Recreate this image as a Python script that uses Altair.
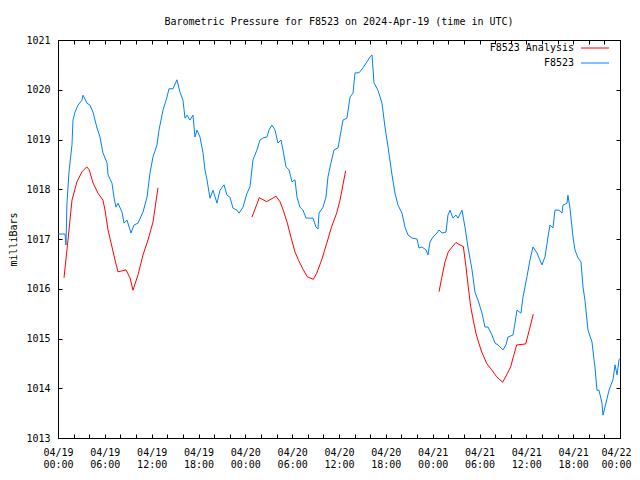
import json
import altair as alt
import pandas as pd

# ---------------- data ----------------
# hours since 2024-04-19 00:00 UTC
blue_hours = [
    0, 0.90, 1.02, 1.15, 1.41, 1.79, 1.92, 2.18, 2.56, 3.07,
    3.20, 3.72, 4.10, 4.48, 5.00, 5.38, 5.76, 6.28, 6.41, 6.92,
    7.17, 7.43, 7.69, 8.20, 8.46, 8.84, 9.35, 9.74, 10.25, 10.89,
    11.40, 11.79, 12.17, 12.68, 12.94, 13.45, 13.96, 14.22, 14.73, 15.24,
    15.63, 16.01, 16.27, 16.53, 16.91, 17.29, 17.55, 17.81, 18.19, 18.58,
    18.83, 19.09, 19.47, 19.86, 20.37, 20.75, 21.27, 21.65, 22.03, 22.42,
    22.93, 23.19, 23.70, 24.21, 24.60, 24.98, 25.49, 25.88, 26.26, 26.77,
    27.03, 27.41, 27.80, 28.18, 28.57, 28.82, 29.21, 29.59, 29.98, 30.36,
    30.62, 31.00, 31.39, 31.77, 32.67, 33.05, 33.31, 33.44, 33.95, 34.33,
    34.59, 34.97, 35.36, 35.87, 36.51, 37.02, 37.41, 37.79, 38.05, 38.56,
    39.07, 39.58, 39.97, 40.23, 40.48, 40.99, 41.51, 41.89, 42.28, 42.79,
    43.17, 43.56, 44.07, 44.45, 44.84, 45.35, 45.99, 46.25, 46.63, 47.14,
    47.40, 47.66, 48.04, 48.55, 48.81, 49.19, 49.71, 49.96, 50.22, 50.60,
    50.99, 51.24, 51.75, 52.14, 52.52, 53.04, 53.42, 53.81, 54.32, 54.70,
    55.09, 55.60, 55.98, 56.37, 57.01, 57.39, 57.65, 58.29, 58.55, 58.80,
    59.31, 59.57, 60.08, 60.47, 60.85, 61.11, 61.36, 62.00, 62.39, 62.77,
    63.03, 63.41, 63.67, 64.18, 64.57, 64.69, 65.21, 65.33, 65.59, 65.98,
    66.23, 66.62, 67.00, 67.26, 67.51, 67.90, 68.41, 68.80, 69.05, 69.31,
    69.69, 69.82, 70.20, 70.59, 71.10, 71.36, 71.62, 71.87, 72.0,
]
blue_values = [
    1017.10, 1017.10, 1016.88, 1017.72, 1018.35, 1018.89, 1019.39, 1019.55, 1019.69, 1019.79,
    1019.89, 1019.73, 1019.69, 1019.55, 1019.23, 1019.05, 1018.73, 1018.53, 1018.29, 1018.12,
    1017.84, 1017.64, 1017.72, 1017.54, 1017.32, 1017.38, 1017.12, 1017.28, 1017.32, 1017.54,
    1017.84, 1018.33, 1018.65, 1018.89, 1019.19, 1019.59, 1019.85, 1020.02, 1020.02, 1020.20,
    1019.95, 1019.79, 1019.43, 1019.49, 1019.39, 1019.49, 1019.05, 1019.19, 1019.05, 1018.73,
    1018.39, 1018.19, 1017.82, 1017.98, 1017.72, 1017.98, 1018.09, 1017.88, 1017.84, 1017.62,
    1017.58, 1017.52, 1017.64, 1017.92, 1018.05, 1018.59, 1018.79, 1018.99, 1019.03, 1019.05,
    1019.19, 1019.29, 1019.19, 1018.93, 1018.99, 1018.79, 1018.45, 1018.39, 1018.15, 1018.19,
    1017.84, 1017.64, 1017.58, 1017.42, 1017.42, 1017.24, 1017.20, 1017.52, 1017.64, 1017.84,
    1018.25, 1018.53, 1018.79, 1018.83, 1019.39, 1019.43, 1019.85, 1019.93, 1020.34, 1020.34,
    1020.44, 1020.56, 1020.66, 1020.70, 1020.14, 1019.99, 1019.73, 1019.25, 1018.85, 1018.29,
    1017.92, 1017.68, 1017.52, 1017.24, 1017.08, 1017.02, 1017.00, 1016.82, 1016.84, 1016.78,
    1016.68, 1016.94, 1017.04, 1017.12, 1017.18, 1017.12, 1017.14, 1017.48, 1017.58, 1017.42,
    1017.48, 1017.42, 1017.58, 1017.24, 1016.84, 1016.38, 1015.93, 1015.77, 1015.51, 1015.23,
    1015.23, 1015.07, 1014.91, 1014.87, 1014.77, 1014.87, 1015.03, 1015.07, 1015.31, 1015.57,
    1015.51, 1015.83, 1016.24, 1016.58, 1016.84, 1016.78, 1016.72, 1016.48, 1016.64, 1017.04,
    1017.28, 1017.22, 1017.58, 1017.58, 1017.52, 1017.68, 1017.72, 1017.88, 1017.62, 1017.04,
    1016.78, 1016.62, 1016.54, 1016.04, 1015.77, 1015.17, 1014.93, 1014.41, 1013.96, 1013.96,
    1013.70, 1013.46, 1013.70, 1013.96, 1014.17, 1014.47, 1014.27, 1014.57, 1014.60,
]

red_hours_1 = [0.77, 1.28, 1.79, 2.43, 3.07, 3.68, 4.00, 4.48, 5.12, 5.76, 6.02, 6.41,
               6.92, 7.30, 7.69, 8.71, 9.22, 9.61, 10.25, 10.89, 11.53, 12.17, 12.81]
red_values_1 = [1016.22, 1016.98, 1017.78, 1018.15, 1018.35, 1018.45, 1018.39, 1018.13,
                1017.92, 1017.78, 1017.58, 1017.18, 1016.84, 1016.58, 1016.34, 1016.38,
                1016.22, 1015.97, 1016.28, 1016.68, 1016.98, 1017.34, 1018.03]
red_hours_2 = [24.85, 25.79, 26.73, 27.93, 28.44, 28.86, 29.38, 29.94, 30.36, 30.79,
               31.43, 31.94, 32.71, 33.14, 33.78, 34.42, 35.06, 35.70, 36.13, 36.85]
red_values_2 = [1017.44, 1017.83, 1017.75, 1017.86, 1017.75, 1017.58, 1017.32, 1016.98,
                1016.74, 1016.58, 1016.38, 1016.24, 1016.19, 1016.31, 1016.58, 1016.91,
                1017.25, 1017.52, 1017.78, 1018.37]
red_hours_3 = [48.81, 49.15, 49.58, 50.00, 50.43, 50.99, 51.50, 51.93, 52.27, 52.56,
               52.87, 53.20, 53.55, 53.85, 54.28, 54.92, 55.56, 56.20, 56.97, 57.48,
               57.99, 58.33, 58.76, 59.91, 60.38, 60.89]
red_values_3 = [1015.94, 1016.21, 1016.54, 1016.74, 1016.83, 1016.93, 1016.88, 1016.85,
                1016.44, 1016.04, 1015.64, 1015.37, 1015.10, 1014.94, 1014.73, 1014.50,
                1014.37, 1014.23, 1014.12, 1014.27, 1014.43, 1014.63, 1014.87, 1014.89,
                1015.17, 1015.49]

series_names = ["F8523 Analysis", "F8523"]
series_colors = ["#ff0000", "#0080ff"]

date_labels = ["04/19", "04/19", "04/19", "04/19", "04/20", "04/20", "04/20",
               "04/20", "04/21", "04/21", "04/21", "04/21", "04/22"]
time_labels = ["00:00", "06:00", "12:00", "18:00", "00:00", "06:00", "12:00",
               "18:00", "00:00", "06:00", "12:00", "18:00", "00:00"]

x_tick_values = list(range(0, 73, 2))
y_tick_values = list(range(1013, 1022))

# ---------------- build tables ----------------
blue_df = pd.DataFrame({"hour": blue_hours, "mb": blue_values, "series": series_names[1]})
red_frames = []
for i, (hh, vv) in enumerate([(red_hours_1, red_values_1),
                              (red_hours_2, red_values_2),
                              (red_hours_3, red_values_3)]):
    red_frames.append(pd.DataFrame({"hour": hh, "mb": vv, "seg": i, "series": series_names[0]}))
red_df = pd.concat(red_frames, ignore_index=True)
legend_df = pd.DataFrame({"series": series_names})

FONT = "DejaVu Sans Mono"

label_arr = json.dumps([[d, t] for d, t in zip(date_labels, time_labels)])
label_expr = f"datum.value % 6 == 0 ? {label_arr}[datum.value / 6] : ''"

x_scale = alt.Scale(domain=[0, 72], nice=False, zero=False)
y_scale = alt.Scale(domain=[1013, 1021], nice=False, zero=False)
stroke_scale = alt.Scale(domain=series_names, range=series_colors)
# key (legend) rows, placed in the top-right corner of the plot
key_scale = alt.Scale(type="point", domain=series_names, range=[8, 23], padding=0)

common_axis = dict(domain=False, grid=False, tickSize=4, offset=-4, tickColor="black",
                   tickWidth=1, labelFont=FONT, labelFontSize=10, labelColor="black",
                   labelFlush=False, labelOverlap=False, zindex=1)

blue = alt.Chart(blue_df).mark_line(strokeWidth=1).encode(
    x=alt.X("hour:Q", scale=x_scale,
            axis=alt.Axis(orient="bottom", values=x_tick_values, labelExpr=label_expr,
                          labelPadding=9, labelLineHeight=12, title=None,
                          labelOffset={"condition": {"test": "datum.value == 72", "value": -4},
                                       "value": 0},
                          **common_axis)),
    y=alt.Y("mb:Q", scale=y_scale,
            axis=alt.Axis(orient="left", values=y_tick_values, format="d", labelPadding=8,
                          title="milliBars", titleFont=FONT, titleFontSize=10,
                          titleFontWeight="normal", titleColor="black", titlePadding=7,
                          **common_axis)),
    stroke=alt.Stroke("series:N", scale=stroke_scale, legend=None),
)

red = alt.Chart(red_df).mark_line(strokeWidth=1).encode(
    x=alt.X("hour:Q", scale=x_scale,
            axis=alt.Axis(orient="top", values=x_tick_values, labels=False, title=None,
                          **common_axis)),
    y=alt.Y("mb:Q", scale=y_scale,
            axis=alt.Axis(orient="right", values=y_tick_values, labels=False, title=None,
                          **common_axis)),
    stroke=alt.Stroke("series:N", scale=stroke_scale, legend=None),
    detail="seg:N",
)

key_lines = alt.Chart(legend_df).mark_rule(strokeWidth=1).encode(
    x=alt.value(523), x2=alt.value(551),
    y=alt.Y("series:N", scale=key_scale, axis=None),
    stroke=alt.Stroke("series:N", scale=stroke_scale, legend=None),
)
key_text = alt.Chart(legend_df).mark_text(
    align="right", baseline="middle", font=FONT, fontSize=10, color="black"
).encode(
    x=alt.value(516),
    y=alt.Y("series:N", scale=key_scale, axis=None),
    text="series:N",
)

chart = alt.layer(blue, red, key_lines, key_text).resolve_scale(
    y="independent"
).resolve_axis(x="independent", y="independent").properties(
    width=562, height=398,
    title=alt.TitleParams("Barometric Pressure for F8523 on 2024-Apr-19 (time in UTC)",
                          font=FONT, fontSize=10, fontWeight="normal", color="black",
                          anchor="middle", frame="group", offset=8),
    padding={"left": 50, "top": 32, "right": 12, "bottom": 36},
    autosize=alt.AutoSizeParams(type="none"),
    background="white",
).configure_view(stroke="black", strokeWidth=1)

chart.save("out.html", embed_options={"renderer": "svg", "actions": False})
